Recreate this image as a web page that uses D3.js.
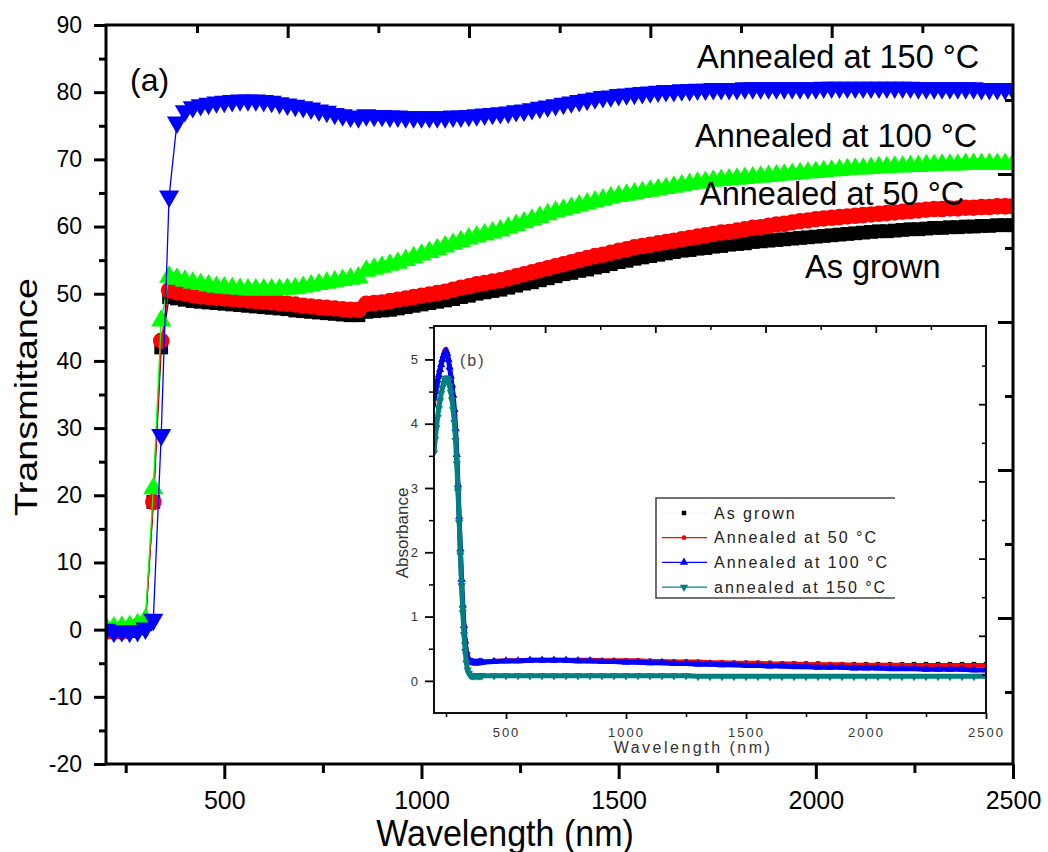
<!DOCTYPE html>
<html>
<head>
<meta charset="utf-8">
<script src="https://cdn.jsdelivr.net/npm/d3@7"></script>
<style>
  body { margin: 0; background: #fff; }
</style>
</head>
<body>
<div id="viz_container"></div>
<script>
const FONT = '"Liberation Sans", Arial, sans-serif';

// ---- transmittance spectra (main plot) ----
const wavelengths = [
  200,220,240,260,280,300,320,340,360,380,
  400,420,440,460,480,500,520,540,560,580,
  600,620,640,660,680,700,720,740,760,780,
  800,820,840,860,880,900,920,940,960,980,
  1000,1020,1040,1060,1080,1100,1120,1140,1160,1180,
  1200,1220,1240,1260,1280,1300,1320,1340,1360,1380,
  1400,1420,1440,1460,1480,1500,1520,1540,1560,1580,
  1600,1620,1640,1660,1680,1700,1720,1740,1760,1780,
  1800,1820,1840,1860,1880,1900,1920,1940,1960,1980,
  2000,2020,2040,2060,2080,2100,2120,2140,2160,2180,
  2200,2220,2240,2260,2280,2300,2320,2340,2360,2380,
  2400,2420,2440,2460,2480,2500
];
const asGrown = [
  -0.3,-0.3,-0.3,-0.2,0.2,0.8,19,42,49.5,49.3,
  49.1,48.9,48.8,48.7,48.6,48.5,48.4,48.3,48.2,48.1,
  48.0,47.9,47.8,47.7,47.5,47.4,47.3,47.2,47.1,47.0,
  46.9,46.8,46.8,47.3,47.4,47.5,47.6,47.8,48.0,48.2,
  48.4,48.6,48.8,49.0,49.2,49.5,49.7,50.0,50.2,50.4,
  50.6,50.9,51.2,51.5,51.7,52.0,52.3,52.6,52.9,53.1,
  53.4,53.6,53.9,54.1,54.4,54.7,54.9,55.2,55.4,55.6,
  55.8,56.0,56.2,56.4,56.5,56.7,56.8,57.0,57.1,57.3,
  57.4,57.5,57.7,57.8,57.9,58.0,58.1,58.2,58.3,58.4,
  58.5,58.6,58.7,58.8,58.9,59.0,59.1,59.2,59.3,59.3,
  59.4,59.5,59.6,59.6,59.7,59.8,59.8,59.9,59.9,60.0,
  60.0,60.1,60.1,60.2,60.2,60.2
];
const annealed50 = [
  -0.3,-0.3,-0.3,0,0.5,1.0,19,43,50.5,50.2,
  50.0,49.8,49.6,49.5,49.4,49.3,49.2,49.1,49.0,48.9,
  48.8,48.7,48.6,48.5,48.4,48.2,48.1,48.0,47.9,47.8,
  47.7,47.6,47.6,48.5,48.6,48.7,48.9,49.1,49.3,49.5,
  49.7,49.9,50.1,50.3,50.6,50.9,51.1,51.4,51.6,51.8,
  52.0,52.3,52.6,52.9,53.2,53.5,53.8,54.1,54.4,54.7,
  55.0,55.3,55.6,55.8,56.1,56.4,56.6,56.9,57.1,57.3,
  57.5,57.7,57.9,58.1,58.3,58.5,58.7,58.9,59.1,59.2,
  59.4,59.6,59.8,59.9,60.1,60.3,60.4,60.6,60.8,60.9,
  61.1,61.2,61.3,61.4,61.5,61.6,61.7,61.8,61.9,62.0,
  62.1,62.2,62.3,62.4,62.5,62.6,62.6,62.7,62.7,62.8,
  62.8,62.9,62.9,63.0,63.0,63.0
];
const annealed100 = [
  0.3,0.3,0.4,0.5,0.8,1.5,21,46,52.5,52.2,
  51.9,51.6,51.4,51.2,51.0,50.9,50.8,50.7,50.6,50.6,
  50.6,50.6,50.6,50.7,50.8,51.0,51.2,51.4,51.6,51.8,
  52.0,52.2,52.4,53.4,53.7,54.0,54.3,54.6,55.0,55.4,
  55.8,56.2,56.6,57.0,57.4,57.8,58.2,58.5,58.8,59.1,
  59.4,59.8,60.2,60.6,61.0,61.4,61.8,62.2,62.5,62.8,
  63.1,63.4,63.7,64.0,64.3,64.5,64.7,64.9,65.1,65.3,
  65.5,65.7,65.9,66.1,66.3,66.5,66.6,66.8,66.9,67.0,
  67.1,67.2,67.3,67.4,67.5,67.6,67.7,67.8,67.9,68.0,
  68.1,68.2,68.3,68.4,68.5,68.6,68.6,68.7,68.8,68.8,
  68.9,68.9,69.0,69.0,69.1,69.1,69.2,69.2,69.2,69.3,
  69.3,69.3,69.3,69.3,69.3,69.3
];
const annealed150 = [
  0,-0.3,-0.2,-0.3,-0.2,0.2,1.5,29,64.5,75.5,
  77.2,77.8,78.1,78.3,78.5,78.6,78.7,78.8,78.8,78.8,
  78.7,78.6,78.4,78.2,78.0,77.8,77.6,77.3,77.1,76.8,
  76.6,76.4,76.3,76.6,76.5,76.5,76.4,76.4,76.3,76.3,
  76.3,76.3,76.3,76.3,76.4,76.4,76.5,76.6,76.7,76.8,
  76.9,77.0,77.2,77.3,77.5,77.7,77.9,78.1,78.3,78.5,
  78.7,78.9,79.1,79.3,79.4,79.6,79.7,79.8,79.9,80.0,
  80.1,80.2,80.2,80.3,80.3,80.4,80.4,80.5,80.5,80.5,
  80.5,80.6,80.6,80.6,80.6,80.6,80.6,80.6,80.6,80.6,
  80.6,80.7,80.7,80.7,80.7,80.7,80.7,80.7,80.7,80.7,
  80.7,80.7,80.7,80.6,80.6,80.6,80.6,80.6,80.6,80.6,
  80.6,80.5,80.5,80.5,80.5,80.4
];

// ---- absorbance spectra (inset) ----
const absWavelengths = [
  200,205,210,215,220,225,230,235,240,245,
  250,255,260,265,270,275,280,285,290,295,
  300,305,310,315,320,325,330,335,340,345,
  350,355,360,365,370,375,380,385,390,395,
  400,
  450,500,550,600,650,700,750,800,850,900,
  950,1000,1050,1100,1150,1200,1250,1300,1350,1400,
  1450,1500,1550,1600,1650,1700,1750,1800,1850,1900,
  1950,2000,2050,2100,2150,2200,2250,2300,2350,2400,
  2450,2500
];
const absAsGrown = [
  4.30,4.42,4.54,4.64,4.73,4.82,4.91,4.99,5.06,5.10,
  5.12,5.08,4.99,4.86,4.72,4.57,4.41,4.19,3.89,3.49,
  3.02,2.52,2.02,1.56,1.16,0.85,0.62,0.46,0.37,0.33,
  0.31,0.30,0.30,0.30,0.30,0.30,0.30,0.30,0.30,0.30,
  0.30,
  0.31,0.31,0.32,0.32,0.32,0.32,0.32,0.32,0.32,0.32,
  0.32,0.31,0.31,0.31,0.30,0.30,0.30,0.29,0.29,0.29,
  0.28,0.28,0.28,0.28,0.27,0.27,0.27,0.27,0.26,0.26,
  0.26,0.26,0.26,0.26,0.26,0.26,0.26,0.26,0.26,0.26,
  0.26,0.26
];
const absAnnealed50 = [
  4.35,4.47,4.58,4.67,4.76,4.85,4.94,5.02,5.09,5.14,
  5.16,5.11,5.01,4.88,4.73,4.58,4.42,4.20,3.90,3.50,
  3.03,2.53,2.03,1.57,1.17,0.86,0.63,0.47,0.38,0.33,
  0.31,0.30,0.30,0.30,0.30,0.30,0.30,0.30,0.30,0.30,
  0.30,
  0.31,0.32,0.32,0.33,0.33,0.33,0.33,0.33,0.33,0.32,
  0.32,0.32,0.32,0.31,0.31,0.30,0.30,0.30,0.29,0.29,
  0.28,0.28,0.28,0.27,0.27,0.27,0.26,0.26,0.26,0.26,
  0.25,0.25,0.25,0.25,0.25,0.24,0.24,0.24,0.24,0.24,
  0.24,0.24
];
const absAnnealed100 = [
  4.40,4.50,4.60,4.68,4.76,4.84,4.92,5.00,5.06,5.11,
  5.13,5.09,5.00,4.88,4.74,4.60,4.44,4.22,3.92,3.52,
  3.05,2.55,2.05,1.58,1.18,0.86,0.62,0.46,0.37,0.32,
  0.30,0.29,0.29,0.28,0.28,0.28,0.28,0.28,0.29,0.29,
  0.29,
  0.30,0.31,0.31,0.32,0.32,0.32,0.32,0.31,0.31,0.30,
  0.30,0.29,0.29,0.28,0.28,0.27,0.27,0.26,0.26,0.25,
  0.25,0.24,0.24,0.23,0.23,0.22,0.22,0.21,0.21,0.21,
  0.20,0.20,0.20,0.19,0.19,0.19,0.18,0.18,0.18,0.18,
  0.17,0.17
];
const absAnnealed150 = [
  3.55,3.76,3.94,4.10,4.24,4.36,4.47,4.56,4.63,4.68,
  4.71,4.71,4.67,4.59,4.49,4.37,4.22,4.02,3.74,3.38,
  2.95,2.46,1.96,1.48,1.06,0.72,0.46,0.28,0.17,0.12,
  0.09,0.08,0.08,0.08,0.08,0.08,0.08,0.08,0.08,0.08,
  0.08,
  0.08,0.08,0.08,0.08,0.08,0.08,0.08,0.08,0.08,0.08,
  0.08,0.08,0.08,0.08,0.08,0.08,0.08,0.07,0.07,0.07,
  0.07,0.07,0.07,0.07,0.07,0.07,0.07,0.07,0.07,0.07,
  0.07,0.07,0.07,0.07,0.07,0.07,0.07,0.07,0.07,0.07,
  0.07,0.07
];

// ---- ticks and labels ----
const yTicks = [-20,-10,0,10,20,30,40,50,60,70,80,90];
const yMinorTicks = [-15,-5,5,15,25,35,45,55,65,75,85];
const xTicks = [500,1000,1500,2000,2500];
const xMinorTicks = [250,750,1250,1750,2250];
const absYTicks = [0,1,2,3,4,5];
const absYMinorTicks = [0.5,1.5,2.5,3.5,4.5,5.5];
const curveLabels = ["Annealed at 150 \u00b0C", "Annealed at 100 \u00b0C", "Annealed at 50 \u00b0C", "As grown"];
const legendLabels = ["As grown", "Annealed at 50 \u00b0C", "Annealed at 100 \u00b0C", "annealed at 150 \u00b0C"];

const svg = d3.select("#viz_container")
  .append("svg")
    .attr("width", 1048)
    .attr("height", 852)
    .attr("font-family", FONT);

// main frame and scales
const frame = {left: 106, right: 1013, top: 25, bottom: 764};
const x = d3.scaleLinear().domain([200, 2500]).range([frame.left, frame.right]);
const y = d3.scaleLinear().domain([-20, 90]).range([frame.bottom, frame.top]);
// the mirrored top / right axes of the original figure use their own spacing
const xTop = d3.scaleLinear().domain([250, 2500]).range([197, frame.right]);
const yRight = d3.scaleLinear().domain([-20, 70]).range([766, 100]);

svg.append("clipPath").attr("id", "clipMain")
  .append("rect")
    .attr("x", frame.left).attr("y", frame.top)
    .attr("width", frame.right - frame.left)
    .attr("height", frame.bottom - frame.top);

const mainSeries = [
  {values: asGrown,     color: "#000000", shape: d3.symbolSquare,   size: 190, rot: 0},
  {values: annealed50,  color: "#ff0000", shape: d3.symbolCircle,   size: 215, rot: 0},
  {values: annealed100, color: "#00ff00", shape: d3.symbolTriangle, size: 175, rot: 0},
  {values: annealed150, color: "#0000ff", shape: d3.symbolTriangle, size: 175, rot: 180}
];

const plot = svg.append("g").attr("clip-path", "url(#clipMain)");
mainSeries.forEach(s => {
  const pts = wavelengths.map((w, i) => [w, s.values[i]]);
  plot.append("path")
    .datum(pts)
    .attr("fill", "none")
    .attr("stroke", s.color)
    .attr("stroke-width", 1.3)
    .attr("d", d3.line().x(d => x(d[0])).y(d => y(d[1])));
  plot.append("g")
    .selectAll("path")
    .data(pts)
    .join("path")
      .attr("transform", d => `translate(${x(d[0])},${y(d[1])}) rotate(${s.rot})`)
      .attr("d", d3.symbol().type(s.shape).size(s.size))
      .attr("fill", s.color);
});

function styleAxis(g, w) {
  g.select(".domain").remove();
  g.selectAll(".tick line").attr("stroke", "#000").attr("stroke-width", w);
  g.attr("font-family", FONT);
}

// left axis
svg.append("g")
  .attr("transform", `translate(${frame.left},0)`)
  .call(d3.axisLeft(y).tickValues(yMinorTicks).tickSize(7).tickFormat(""))
  .call(g => styleAxis(g, 3));
svg.append("g")
  .attr("transform", `translate(${frame.left},0)`)
  .call(d3.axisLeft(y).tickValues(yTicks).tickSize(12).tickPadding(12).tickFormat(d => String(d)))
  .call(g => styleAxis(g, 3))
  .attr("font-size", 23)
  .call(g => g.selectAll("text").attr("fill", "#000"));

// bottom axis
svg.append("g")
  .attr("transform", `translate(0,${frame.bottom})`)
  .call(d3.axisBottom(x).tickValues(xMinorTicks).tickSize(9).tickFormat(""))
  .call(g => styleAxis(g, 3));
svg.append("g")
  .attr("transform", `translate(0,${frame.bottom})`)
  .call(d3.axisBottom(x).tickValues(xTicks).tickSize(15).tickPadding(12).tickFormat(d => String(d)))
  .call(g => styleAxis(g, 3))
  .attr("font-size", 25)
  .call(g => g.selectAll("text").attr("fill", "#000"));

// top axis (ticks inward)
svg.append("g")
  .attr("transform", `translate(0,${frame.top})`)
  .call(d3.axisTop(xTop).tickValues(xMinorTicks).tickSize(-8).tickFormat(""))
  .call(g => styleAxis(g, 3));
svg.append("g")
  .attr("transform", `translate(0,${frame.top})`)
  .call(d3.axisTop(xTop).tickValues([500,1000,1500,2000]).tickSize(-13).tickFormat(""))
  .call(g => styleAxis(g, 3));

// right axis (ticks inward)
svg.append("g")
  .attr("transform", `translate(${frame.right},0)`)
  .call(d3.axisRight(yRight).tickValues([-10,10,30,50,70]).tickSize(-8).tickFormat(""))
  .call(g => styleAxis(g, 3));
svg.append("g")
  .attr("transform", `translate(${frame.right},0)`)
  .call(d3.axisRight(yRight).tickValues([0,20,40,60]).tickSize(-15).tickFormat(""))
  .call(g => styleAxis(g, 3));

svg.append("rect")
  .attr("x", frame.left).attr("y", frame.top)
  .attr("width", frame.right - frame.left)
  .attr("height", frame.bottom - frame.top)
  .attr("fill", "none")
  .attr("stroke", "#000")
  .attr("stroke-width", 3);

// axis titles
svg.append("text")
  .attr("transform", "translate(505,846) scale(1,1.08)")
  .attr("text-anchor", "middle")
  .attr("font-size", 34)
  .text("Wavelength (nm)");
svg.append("text")
  .attr("transform", "translate(37,397) rotate(-90) scale(1.22,1)")
  .attr("text-anchor", "middle")
  .attr("font-size", 31)
  .text("Transmittance");

svg.append("text")
  .attr("x", 130).attr("y", 91)
  .attr("font-size", 32)
  .text("(a)");

// curve annotations
const labelPos = [[697, 68], [695, 147], [700, 205], [805, 278]];
svg.selectAll(".curve-label")
  .data(curveLabels)
  .join("text")
    .attr("class", "curve-label")
    .attr("x", (d, i) => labelPos[i][0])
    .attr("y", (d, i) => labelPos[i][1])
    .attr("font-size", 32.5)
    .text(d => d);

// ---------------- inset ----------------
const inset = {left: 434, right: 986, top: 326, bottom: 713};
const ix = d3.scaleLinear().domain([200, 2500]).range([inset.left, inset.right]);
const iy = d3.scaleLinear().domain([-0.5, 5.52]).range([inset.bottom, inset.top]);
const ixTop = d3.scaleLinear().domain([250, 2500]).range([490, inset.right]);
const iyRight = d3.scaleLinear().domain([0, 5]).range([inset.bottom, 327]);

svg.append("rect")
  .attr("x", inset.left).attr("y", inset.top)
  .attr("width", inset.right - inset.left)
  .attr("height", inset.bottom - inset.top)
  .attr("fill", "#fff");

svg.append("clipPath").attr("id", "clipInset")
  .append("rect")
    .attr("x", inset.left).attr("y", inset.top)
    .attr("width", inset.right - inset.left)
    .attr("height", inset.bottom - inset.top);

const insetSeries = [
  {values: absAsGrown,     color: "#000000", shape: d3.symbolSquare,   size: 20, rot: 0,   width: 2},
  {values: absAnnealed50,  color: "#ff0000", shape: d3.symbolCircle,   size: 18, rot: 0,   width: 4},
  {values: absAnnealed100, color: "#0000ff", shape: d3.symbolTriangle, size: 30, rot: 0,   width: 5},
  {values: absAnnealed150, color: "#008080", shape: d3.symbolTriangle, size: 30, rot: 180, width: 5}
];

const iplot = svg.append("g").attr("clip-path", "url(#clipInset)");
insetSeries.forEach(s => {
  const pts = absWavelengths.map((w, i) => [w, s.values[i]]);
  iplot.append("path")
    .datum(pts)
    .attr("fill", "none")
    .attr("stroke", s.color)
    .attr("stroke-width", s.width)
    .attr("stroke-linejoin", "round")
    .attr("d", d3.line().x(d => ix(d[0])).y(d => iy(d[1])));
  iplot.append("g")
    .selectAll("path")
    .data(pts)
    .join("path")
      .attr("transform", d => `translate(${ix(d[0])},${iy(d[1])}) rotate(${s.rot})`)
      .attr("d", d3.symbol().type(s.shape).size(s.size))
      .attr("fill", s.color);
});

// inset axes
svg.append("g")
  .attr("transform", `translate(${inset.left},0)`)
  .call(d3.axisLeft(iy).tickValues(absYMinorTicks).tickSize(5).tickFormat(""))
  .call(g => styleAxis(g, 1.5));
svg.append("g")
  .attr("transform", `translate(${inset.left},0)`)
  .call(d3.axisLeft(iy).tickValues(absYTicks).tickSize(9).tickPadding(7).tickFormat(d => String(d)))
  .call(g => styleAxis(g, 1.8))
  .attr("font-size", 13)
  .call(g => g.selectAll("text").attr("fill", "#333"));

svg.append("g")
  .attr("transform", `translate(0,${inset.bottom})`)
  .call(d3.axisBottom(ix).tickValues(xMinorTicks).tickSize(4).tickFormat(""))
  .call(g => styleAxis(g, 1.5));
svg.append("g")
  .attr("transform", `translate(0,${inset.bottom})`)
  .call(d3.axisBottom(ix).tickValues(xTicks).tickSize(6).tickPadding(9).tickFormat(d => String(d)))
  .call(g => styleAxis(g, 1.8))
  .attr("font-size", 13)
  .call(g => g.selectAll("text").attr("fill", "#333").attr("letter-spacing", 2));

svg.append("g")
  .attr("transform", `translate(0,${inset.top})`)
  .call(d3.axisTop(ixTop).tickValues(xMinorTicks).tickSize(-4).tickFormat(""))
  .call(g => styleAxis(g, 1.5));
svg.append("g")
  .attr("transform", `translate(0,${inset.top})`)
  .call(d3.axisTop(ixTop).tickValues([500,1000,1500,2000]).tickSize(-7).tickFormat(""))
  .call(g => styleAxis(g, 1.8));

svg.append("g")
  .attr("transform", `translate(${inset.right},0)`)
  .call(d3.axisRight(iyRight).tickValues([0.5,1.5,2.5,3.5,4.5]).tickSize(-4).tickFormat(""))
  .call(g => styleAxis(g, 1.5));
svg.append("g")
  .attr("transform", `translate(${inset.right},0)`)
  .call(d3.axisRight(iyRight).tickValues([1,2,3,4]).tickSize(-7).tickFormat(""))
  .call(g => styleAxis(g, 1.8));

svg.append("rect")
  .attr("x", inset.left).attr("y", inset.top)
  .attr("width", inset.right - inset.left)
  .attr("height", inset.bottom - inset.top)
  .attr("fill", "none")
  .attr("stroke", "#111")
  .attr("stroke-width", 2);

svg.append("text")
  .attr("x", 693).attr("y", 753)
  .attr("text-anchor", "middle")
  .attr("font-size", 16)
  .attr("letter-spacing", 2.5)
  .attr("fill", "#333")
  .text("Wavelength (nm)");
svg.append("text")
  .attr("transform", "translate(408,533) rotate(-90)")
  .attr("text-anchor", "middle")
  .attr("font-size", 17)
  .attr("fill", "#333")
  .text("Absorbance");
svg.append("text")
  .attr("x", 460).attr("y", 366)
  .attr("font-size", 16)
  .attr("letter-spacing", 2)
  .attr("fill", "#444")
  .text("(b)");

// inset legend
const legend = {left: 656, right: 895, top: 498, bottom: 598};
svg.append("path")
  .attr("d", `M${legend.right},${legend.top}H${legend.left}V${legend.bottom}H${legend.right}`)
  .attr("fill", "none")
  .attr("stroke", "#444")
  .attr("stroke-width", 1.5);

const legendRows = svg.append("g")
  .selectAll("g")
  .data(legendLabels)
  .join("g")
    .attr("transform", (d, i) => `translate(0,${513 + i * 24.7})`);
legendRows.append("line")
  .attr("x1", 662).attr("x2", 707)
  .attr("stroke", (d, i) => i === 0 ? "#eeeeee" : insetSeries[i].color)
  .attr("stroke-width", 1.2);
legendRows.append("path")
  .attr("transform", (d, i) => `translate(684,0) rotate(${insetSeries[i].rot})`)
  .attr("d", (d, i) => d3.symbol().type(insetSeries[i].shape).size(insetSeries[i].size)())
  .attr("fill", (d, i) => insetSeries[i].color);
legendRows.append("text")
  .attr("x", 714)
  .attr("dy", "0.35em")
  .attr("font-size", 16)
  .attr("letter-spacing", 2)
  .attr("fill", "#222")
  .text(d => d);
</script>
</body>
</html>
